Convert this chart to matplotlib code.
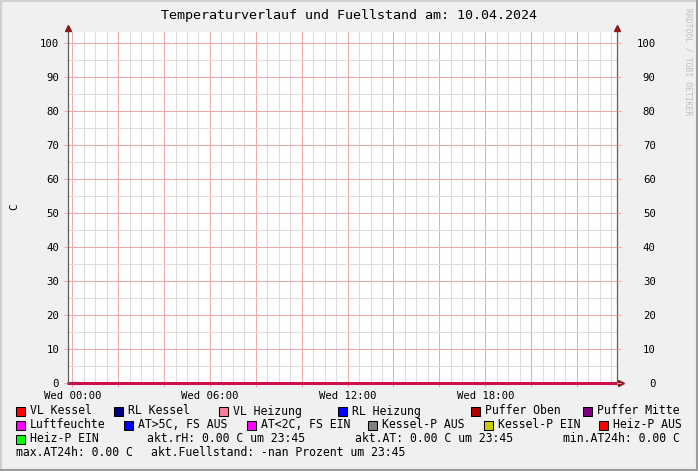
import matplotlib
matplotlib.use("Agg")
import matplotlib.pyplot as plt
from matplotlib.patches import Rectangle
from matplotlib.lines import Line2D
from matplotlib.ticker import FixedLocator, FuncFormatter

# ---------- data ----------
title = "Temperaturverlauf und Fuellstand am: 10.04.2024"
y_label = "C"
watermark = "RRDTOOL / TOBI OETIKER"

# hours since midnight, all series sit on 0 for the whole day
hours = [-0.25, 23.75]
werte = [0.0, 0.0]

x_major = [0, 2, 4, 6, 8, 10, 12, 14, 16, 18, 20, 22]
x_minor = [h + q for h in range(-1, 24) for q in (0.5, 1.0, 1.5) if (h + q) % 2 != 0]
x_labels = {0: "Wed 00:00", 6: "Wed 06:00", 12: "Wed 12:00", 18: "Wed 18:00"}
y_ticks = [0, 10, 20, 30, 40, 50, 60, 70, 80, 90, 100]
y_minor = [5, 15, 25, 35, 45, 55, 65, 75, 85, 95]

row1_names = ["VL Kessel", "RL Kessel", "VL Heizung", "RL Heizung", "Puffer Oben", "Puffer Mitte"]
row1_colors = ["#FF0000", "#000080", "#FF7F9F", "#0000FF", "#B00000", "#800080"]
row2_names = ["Luftfeuchte", "AT>5C, FS AUS", "AT<2C, FS EIN", "Kessel-P AUS", "Kessel-P EIN", "Heiz-P AUS"]
row2_colors = ["#FF00FF", "#0000FF", "#FF00FF", "#808080", "#CCCC00", "#FF0000"]
row3_names = ["Heiz-P EIN"]
row3_colors = ["#00FF00"]
row3_texts = ["akt.rH: 0.00 C um 23:45", "akt.AT: 0.00 C um 23:45", "min.AT24h: 0.00 C"]
row4_texts = ["max.AT24h: 0.00 C", "akt.Fuellstand: -nan Prozent um 23:45"]

# ---------- layout (pixels) ----------
W, H = 698, 471
plt.rcParams['font.family'] = ['DejaVu Sans Mono']

def fx(x):
    return x / W

def fy(y):
    return 1 - y / H

fig = plt.figure(figsize=(W / 100, H / 100), dpi=100, facecolor="#F0F0F0")

left, right, top, bottom = 68, 617, 32, 383
ax = fig.add_axes([fx(left), fy(bottom), (right - left) / W, (bottom - top) / H])
ax.set_facecolor("white")

ax.plot(hours, werte, color="#CC1048", lw=2.2, solid_capstyle="butt", zorder=5, clip_on=False)

ax.set_xlim(-0.187, 23.745)
ax.set_ylim(0, 103.24)

ax.xaxis.set_major_locator(FixedLocator(x_major))
ax.xaxis.set_minor_locator(FixedLocator(x_minor))
ax.xaxis.set_major_formatter(FuncFormatter(lambda v, p: x_labels.get(int(round(v)), "")))
ax.yaxis.set_major_locator(FixedLocator(y_ticks))
ax.yaxis.set_minor_locator(FixedLocator(y_minor))

ax.set_axisbelow(True)
ax.grid(which="minor", color="#DDDDDD", lw=0.75)
ax.grid(which="major", color="#F0A8A8", lw=0.75)

ax.tick_params(which="major", length=3, width=0.75, color="#F0A8A8", labelsize=7.7)
ax.tick_params(which="minor", length=0)
ax.tick_params(axis="y", pad=3.4)
ax.tick_params(axis="x", pad=2.5)
for s in ax.spines.values():
    s.set_visible(False)

ax2 = ax.twinx()
ax2.set_ylim(ax.get_ylim())
ax2.yaxis.set_major_locator(FixedLocator(y_ticks))
ax2.tick_params(which="major", length=3, width=0.75, color="#F0A8A8", labelsize=7.7, pad=24.8)
for lab in ax2.get_yticklabels():
    lab.set_horizontalalignment("right")
for s in ax2.spines.values():
    s.set_visible(False)

# axis lines with arrow heads
axis_col = "#606060"
arrow_col = "#8B1A1A"
ax.plot([0, 0], [0, 1.011], transform=ax.transAxes, color=axis_col, lw=0.9, clip_on=False, zorder=6)
ax.plot([1, 1], [0, 1.011], transform=ax.transAxes, color=axis_col, lw=0.9, clip_on=False, zorder=6)
ax.plot([0, 1], [0, 0], transform=ax.transAxes, color=axis_col, lw=0.9, clip_on=False, zorder=4)
ax.plot([0, 1], [1.011, 1.011], transform=ax.transAxes, ls="none", marker="^", ms=4,
        color=arrow_col, clip_on=False, zorder=7)
ax.plot([1.008], [0], transform=ax.transAxes, ls="none", marker=">", ms=4,
        color=arrow_col, clip_on=False, zorder=7)

# texts
fig.text(fx(349), fy(16), title, ha="center", va="center", fontsize=9.6, color="#000000")
fig.text(fx(14), fy(207), y_label, ha="center", va="center", rotation=90, fontsize=7.7)
fig.text(fx(688), fy(62), watermark, ha="center", va="center", rotation=-90,
         fontsize=5.8, color="#C0C0C0")

# legend
def legend_row(names, colors, xs, y):
    for name, col, x in zip(names, colors, xs):
        fig.add_artist(Rectangle((fx(x), fy(y + 4.5)), 9 / W, 9 / H, transform=fig.transFigure,
                                 facecolor=col, edgecolor="black", lw=0.75))
        fig.text(fx(x + 14), fy(y), name, ha="left", va="center", fontsize=8.3)

legend_row(row1_names, row1_colors, [16, 114, 219, 338, 471, 583], 411)
legend_row(row2_names, row2_colors, [16, 124, 247, 368, 484, 599], 425)
legend_row(row3_names, row3_colors, [16], 439)
for t, x in zip(row3_texts, [147, 355, 563]):
    fig.text(fx(x), fy(439), t, ha="left", va="center", fontsize=8.3)
for t, x in zip(row4_texts, [16, 151]):
    fig.text(fx(x), fy(453), t, ha="left", va="center", fontsize=8.3)

# 3d frame
fig.add_artist(Line2D([0, 1], [fy(1), fy(1)], color="#CFCFCF", lw=1.5))
fig.add_artist(Line2D([fx(1), fx(1)], [0, 1], color="#CFCFCF", lw=1.5))
fig.add_artist(Line2D([fx(697), fx(697)], [0, 1], color="#9C9C9C", lw=1.5))
fig.add_artist(Line2D([0, 1], [fy(470), fy(470)], color="#9C9C9C", lw=1.5))

fig.savefig("out.png", dpi=100, facecolor=fig.get_facecolor())
